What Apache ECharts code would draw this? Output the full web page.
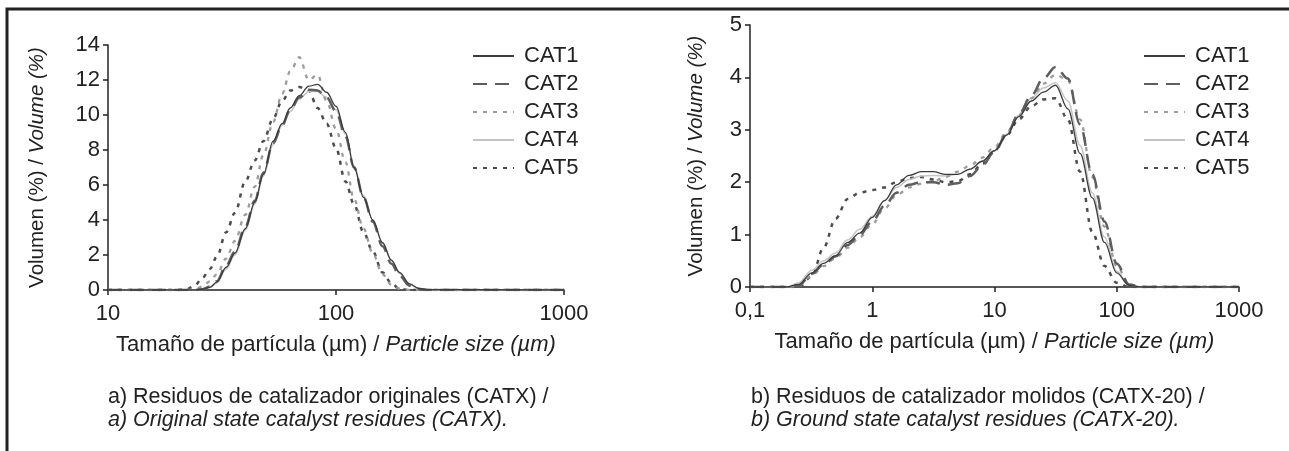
<!DOCTYPE html>
<html>
<head>
<meta charset="utf-8">
<script src="https://cdn.jsdelivr.net/npm/echarts@6/dist/echarts.min.js"></script>
<style>
html,body{margin:0;padding:0;background:#fff;}
#chart{width:1289px;height:451px;}
</style>
</head>
<body>
<div id="chart"></div>
<script>
// ---------- Data ----------
const seriesNames = ['CAT1', 'CAT2', 'CAT3', 'CAT4', 'CAT5'];

// a) original residues: particle size (µm)
const sizesA = [10, 20, 22, 24, 26, 28, 30, 33, 36, 40, 44, 48, 53, 58, 63, 69, 76, 83, 91, 100, 110, 120, 132, 145, 160, 175, 190, 210, 230, 250, 1000];
const cat1A = [0, 0, 0, 0, 0.05, 0.15, 0.45, 1.3, 2.1, 3.5, 5.0, 6.6, 8.5, 9.5, 10.4, 11.1, 11.65, 11.75, 11.3, 10.5, 9.0, 7.0, 5.3, 4.0, 2.7, 1.7, 1.0, 0.35, 0.1, 0.02, 0];
const cat2A = [0, 0, 0, 0, 0.05, 0.2, 0.5, 1.4, 2.2, 3.6, 5.1, 6.7, 8.4, 9.4, 10.3, 11.0, 11.45, 11.4, 11.0, 10.2, 8.8, 7.0, 5.3, 3.9, 2.5, 1.5, 0.8, 0.25, 0.05, 0, 0];
const cat3A = [0, 0, 0, 0.05, 0.2, 0.5, 0.9, 1.8, 2.8, 4.3, 5.9, 7.7, 9.6, 11.2, 12.5, 13.3, 12.0, 12.3, 10.8, 9.2, 7.3, 5.2, 3.5, 2.1, 0.9, 0.3, 0.08, 0, 0, 0, 0];
const cat4A = [0, 0, 0, 0, 0.03, 0.15, 0.4, 1.2, 2.0, 3.4, 4.9, 6.5, 8.3, 9.4, 10.2, 10.9, 11.35, 11.35, 11.0, 10.3, 8.9, 7.1, 5.4, 4.0, 2.7, 1.7, 0.95, 0.35, 0.08, 0, 0];
const cat5A = [0, 0, 0.02, 0.25, 0.7, 1.2, 1.9, 3.3, 4.4, 6.2, 7.4, 8.5, 9.8, 10.8, 11.4, 11.6, 11.4, 10.4, 9.5, 8.1, 6.2, 4.9, 3.3, 2.2, 1.0, 0.4, 0.05, 0, 0, 0, 0];

// b) ground residues: particle size (µm)
const sizesB = [0.1, 0.2, 0.25, 0.32, 0.4, 0.5, 0.63, 0.79, 1.0, 1.26, 1.58, 2.0, 2.51, 3.16, 3.98, 5.01, 6.31, 7.94, 10, 12.6, 15.8, 20, 25.1, 31.6, 39.8, 50.1, 63.1, 79.4, 100, 126, 158, 1000];
const cat1B = [0, 0, 0.05, 0.27, 0.45, 0.6, 0.85, 1.03, 1.33, 1.65, 1.95, 2.13, 2.2, 2.2, 2.15, 2.15, 2.25, 2.4, 2.6, 2.9, 3.25, 3.55, 3.72, 3.85, 3.4, 2.55, 1.7, 0.85, 0.27, 0.03, 0, 0];
const cat2B = [0, 0, 0.03, 0.25, 0.43, 0.58, 0.8, 1.0, 1.25, 1.55, 1.8, 1.95, 2.0, 2.0, 1.95, 1.98, 2.12, 2.32, 2.58, 2.92, 3.3, 3.65, 3.98, 4.2, 3.98, 3.1, 2.15, 1.25, 0.45, 0.05, 0, 0];
const cat3B = [0, 0, 0.02, 0.22, 0.4, 0.55, 0.75, 0.95, 1.2, 1.5, 1.75, 1.9, 1.97, 2.02, 2.1, 2.2, 2.32, 2.47, 2.67, 2.95, 3.28, 3.6, 3.88, 4.05, 3.95, 3.2, 2.1, 1.15, 0.4, 0.05, 0, 0];
const cat4B = [0, 0, 0.08, 0.32, 0.5, 0.65, 0.9, 1.1, 1.35, 1.65, 1.9, 2.05, 2.12, 2.13, 2.12, 2.15, 2.25, 2.4, 2.6, 2.92, 3.28, 3.6, 3.8, 3.9, 3.55, 2.7, 1.8, 0.95, 0.3, 0.04, 0, 0];
const cat5B = [0, 0, 0, 0.2, 0.75, 1.3, 1.68, 1.8, 1.85, 1.9, 2.0, 2.08, 2.1, 2.05, 2.0, 2.02, 2.15, 2.35, 2.6, 2.9, 3.2, 3.45, 3.58, 3.6, 3.2, 2.2, 1.05, 0.4, 0.08, 0, 0, 0];

// Text
const xNameEs = 'Tamaño de partícula (µm) / ';
const xNameEn = 'Particle size (µm)';
const yNameEs = 'Volumen (%) / ';
const yNameEn = 'Volume (%)';
const captionA1 = 'a) Residuos de catalizador originales (CATX) /';
const captionA2 = 'a) Original state catalyst residues (CATX)';
const captionB1 = 'b) Residuos de catalizador molidos (CATX-20) /';
const captionB2 = 'b) Ground state catalyst residues (CATX-20)';

// ---------- Styles ----------
const FONT = '"Liberation Sans", Arial, Helvetica, sans-serif';
const FS = 22;
const TXT = '#222';
const styles = [
  { color: '#3c3c3c', width: 1.3, type: 'solid' },
  { color: '#5e5e5e', width: 2.5, type: [14, 8] },
  { color: '#9c9c9c', width: 2.3, type: [4, 6] },
  { color: '#c4c4c4', width: 1.5, type: 'solid' },
  { color: '#4c4c4c', width: 2.5, type: [4, 6] }
];

function pairs(xs, ys) { return xs.map((x, i) => [x, ys[i]]); }

const dataA = [cat1A, cat2A, cat3A, cat4A, cat5A];
const dataB = [cat1B, cat2B, cat3B, cat4B, cat5B];

const series = [];
[0, 1].forEach(g => {
  const xs = g === 0 ? sizesA : sizesB;
  const ds = g === 0 ? dataA : dataB;
  seriesNames.forEach((nm, i) => {
    series.push({
      name: nm,
      type: 'line',
      xAxisIndex: g,
      yAxisIndex: g,
      data: pairs(xs, ds[i]),
      symbol: 'none',
      smooth: 0.35,
      smoothMonotone: 'x',
      color: styles[i].color,
      lineStyle: { color: styles[i].color, width: styles[i].width, type: styles[i].type },
      z: 5 - i,
      silent: true,
      animation: false
    });
  });
});

function xAxisCfg(g, min, max) {
  return {
    type: 'log', logBase: 10, gridIndex: g, min: min, max: max,
    axisLine: { show: true, onZero: false, lineStyle: { color: '#222', width: 1.5 } },
    axisTick: { show: true, inside: false, length: 5, lineStyle: { color: '#222', width: 1.5 } },
    minorTick: { show: false },
    splitLine: { show: false },
    axisLabel: {
      color: TXT, fontSize: FS, fontFamily: FONT, margin: 13,
      formatter: v => String(Number(v.toPrecision(6))).replace('.', ',')
    },
    name: '{n|' + xNameEs + '}{i|' + xNameEn + '}',
    nameLocation: 'middle',
    nameGap: 44,
    nameTextStyle: {
      rich: {
        n: { fontSize: FS, fontFamily: FONT, color: TXT },
        i: { fontSize: FS, fontFamily: FONT, color: TXT, fontStyle: 'italic' }
      }
    }
  };
}
function yAxisCfg(g, max, interval, gap) {
  return {
    type: 'value', gridIndex: g, min: 0, max: max, interval: interval,
    axisLine: { show: true, lineStyle: { color: '#222', width: 1.5 } },
    axisTick: { show: true, inside: false, length: 5, lineStyle: { color: '#222', width: 1.5 } },
    splitLine: { show: false },
    axisLabel: { color: TXT, fontSize: FS, fontFamily: FONT, margin: 8 },
    name: '{n|' + yNameEs + '}{i|' + yNameEn + '}',
    nameLocation: 'middle',
    nameGap: gap,
    nameRotate: 90,
    nameTextStyle: {
      rich: {
        n: { fontSize: 20.5, fontFamily: FONT, color: TXT },
        i: { fontSize: 20.5, fontFamily: FONT, color: TXT, fontStyle: 'italic' }
      }
    }
  };
}

function legendCfg(left) {
  return {
    left: left, top: 40, orient: 'vertical',
    itemWidth: 41, itemHeight: 20, itemGap: 6,
    itemStyle: { opacity: 0, color: 'rgba(0,0,0,0)', borderWidth: 0 },
    textStyle: { fontSize: FS, fontFamily: FONT, color: TXT, padding: [0, 0, 0, 5] },
    data: seriesNames,
    selectedMode: false
  };
}

function caption(x, y, txt, italic) {
  return {
    type: 'text', left: x, top: y, silent: true,
    style: { text: txt, fontSize: 21.5, fontFamily: FONT, fill: TXT, fontStyle: italic ? 'italic' : 'normal' }
  };
}

const chart = echarts.init(document.getElementById('chart'), null, { renderer: 'canvas' });
chart.setOption({
  backgroundColor: '#fff',
  animation: false,
  grid: [
    { left: 108, top: 45, width: 456, height: 245 },
    { left: 750, top: 25, width: 489, height: 262 }
  ],
  xAxis: [xAxisCfg(0, 10, 1000), xAxisCfg(1, 0.1, 1000)],
  yAxis: [yAxisCfg(0, 14, 2, 60), yAxisCfg(1, 5, 1, 43)],
  legend: [legendCfg(467), legendCfg(1138)],
  series: series,
  graphic: [
    { type: 'polyline', silent: true, shape: { points: [[7, 451], [7, 9], [1289, 9]] },
      style: { stroke: '#222', lineWidth: 3, fill: null } },
    caption(108, 386, captionA1, false),
    caption(108, 409, captionA2 + '.', true),
    caption(751, 386, captionB1, false),
    caption(751, 409, captionB2 + '.', true)
  ]
});
</script>
</body>
</html>
